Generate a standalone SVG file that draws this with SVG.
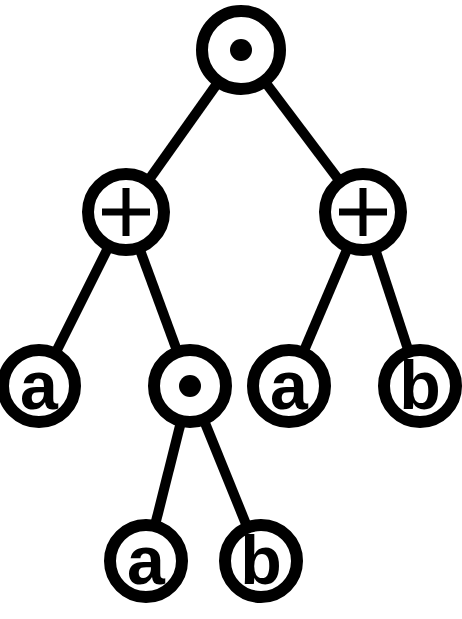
<svg xmlns="http://www.w3.org/2000/svg" width="462" height="619" viewBox="0 0 462 619">
<style>
.edge{stroke:#000;stroke-width:10;fill:none}
.node circle.ring{fill:#fff;stroke:#000;stroke-width:12}
.lbl{font-family:"Liberation Sans",Arial,sans-serif;font-weight:bold;font-size:68px;text-anchor:middle;fill:#000}
.op{stroke:#000;stroke-width:7;fill:none}
</style>
<rect width="462" height="619" fill="#fff"/>
<g id="edges">
<line class="edge" x1="241" y1="50" x2="126" y2="212"/>
<line class="edge" x1="241" y1="50" x2="363" y2="212"/>
<line class="edge" x1="126" y1="212" x2="39" y2="386"/>
<line class="edge" x1="126" y1="212" x2="190" y2="386"/>
<line class="edge" x1="363" y1="212" x2="289" y2="386"/>
<line class="edge" x1="363" y1="212" x2="420" y2="386"/>
<line class="edge" x1="190" y1="386" x2="146" y2="561"/>
<line class="edge" x1="190" y1="386" x2="261" y2="561"/>
</g>
<g id="n_root" class="node"><circle class="ring" cx="241" cy="50" r="39"/><circle cx="241" cy="50" r="11" fill="#000"/></g>
<g id="n_plusL" class="node"><circle class="ring" cx="126" cy="212" r="38"/><path class="op" d="M102 212H150M126 188V236"/></g>
<g id="n_plusR" class="node"><circle class="ring" cx="363" cy="212" r="38"/><path class="op" d="M339 212H387M363 188V236"/></g>
<g id="n_a1" class="node"><circle class="ring" cx="39" cy="386" r="36"/><text class="lbl" x="39" y="409">a</text></g>
<g id="n_dot2" class="node"><circle class="ring" cx="190" cy="386" r="36"/><circle cx="190" cy="386" r="11" fill="#000"/></g>
<g id="n_a2" class="node"><circle class="ring" cx="289" cy="386" r="36"/><text class="lbl" x="289" y="409">a</text></g>
<g id="n_b1" class="node"><circle class="ring" cx="420" cy="386" r="36"/><text class="lbl" x="420" y="409">b</text></g>
<g id="n_a3" class="node"><circle class="ring" cx="146" cy="561" r="36"/><text class="lbl" x="146" y="584">a</text></g>
<g id="n_b2" class="node"><circle class="ring" cx="261" cy="561" r="36"/><text class="lbl" x="261" y="584">b</text></g>
</svg>
